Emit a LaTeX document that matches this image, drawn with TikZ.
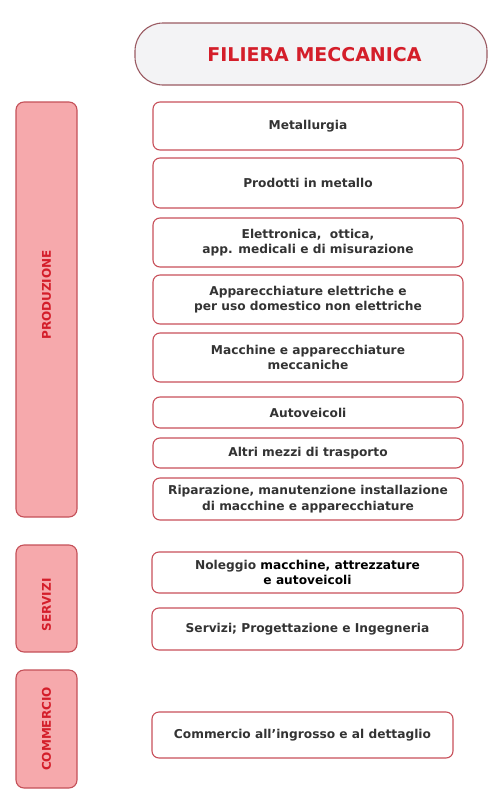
\documentclass[tikz,border=0pt]{standalone}
\usepackage{fontspec}
\setmainfont{DejaVu Sans}
\definecolor{boxline}{HTML}{C8505A}
\definecolor{txt}{HTML}{333333}
\definecolor{barfill}{HTML}{F6A9AC}
\definecolor{barline}{HTML}{C45058}
\definecolor{redtxt}{HTML}{D41E2A}
\definecolor{pillfill}{HTML}{F3F3F5}
\definecolor{pillline}{HTML}{9A5A62}
\tikzset{
  item/.style={draw=boxline, line width=1.1pt, fill=white, rounded corners=7pt,
    font=\bfseries\fontsize{12.2}{15.5}\selectfont, text=txt, align=center,
    inner sep=0pt},
  bar/.style={draw=barline, line width=1.1pt, fill=barfill, rounded corners=8pt, inner sep=0pt},
  bartext/.style={font=\bfseries\fontsize{12}{14}\selectfont, text=redtxt, rotate=90},
}
\begin{document}
\begin{tikzpicture}[x=1pt,y=-1pt]
\useasboundingbox (0,0) rectangle (488,798);
% title
\node[draw=pillline, line width=1.1pt, fill=pillfill, rounded corners=28pt,
  minimum width=352pt, minimum height=62pt, inner sep=0pt] (title) at (311,54) {};
\node[font=\bfseries\fontsize{19}{22}\selectfont, text=redtxt] (titlet) at (314.5,55) {FILIERA MECCANICA};
% left bars
\node[bar, minimum width=61pt, minimum height=415pt] (prod) at (46.5,309.5) {};
\node[bartext] (prodt) at (46.5,295) {PRODUZIONE};
\node[bar, minimum width=61pt, minimum height=107pt] (serv) at (46.5,598.5) {};
\node[bartext] (servt) at (46.5,605) {SERVIZI};
\node[bar, minimum width=61pt, minimum height=118pt] (comm) at (46.5,729) {};
\node[bartext] (commt) at (comm.center) {COMMERCIO};
% items
\node[item, minimum width=310pt, minimum height=48pt] (b1) at (308,126) {Metallurgia};
\node[item, minimum width=310pt, minimum height=50pt] (b2) at (308,183) {Prodotti in metallo};
\node[item, minimum width=310pt, minimum height=49pt] (b3) at (308,242.5) {Elettronica,\ \ ottica,\\app. medicali e di misurazione};
\node[item, minimum width=310pt, minimum height=49pt] (b4) at (308,299.5) {Apparecchiature elettriche e\\per uso domestico non elettriche};
\node[item, minimum width=310pt, minimum height=49pt] (b5) at (308,357.5) {Macchine e apparecchiature\\meccaniche};
\node[item, minimum width=310pt, minimum height=31pt] (b6) at (308,412.5) {Autoveicoli};
\node[item, minimum width=310pt, minimum height=30pt] (b7) at (308,453) {Altri mezzi di trasporto};
\node[item, minimum width=310pt, minimum height=42pt] (b8) at (308,499) {Riparazione, manutenzione installazione\\di macchine e apparecchiature};
\node[item, minimum width=311pt, minimum height=41pt] (b9) at (307.5,572.5) {Noleggio \textcolor{black}{macchine, attrezzature}\\\textcolor{black}{e autoveicoli}};
\node[item, minimum width=311pt, minimum height=42pt] (b10) at (307.5,629) {Servizi; Progettazione e Ingegneria};
\node[item, minimum width=301pt, minimum height=46pt] (b11) at (302.5,735) {Commercio all'ingrosso e al dettaglio};
\end{tikzpicture}
\end{document}
